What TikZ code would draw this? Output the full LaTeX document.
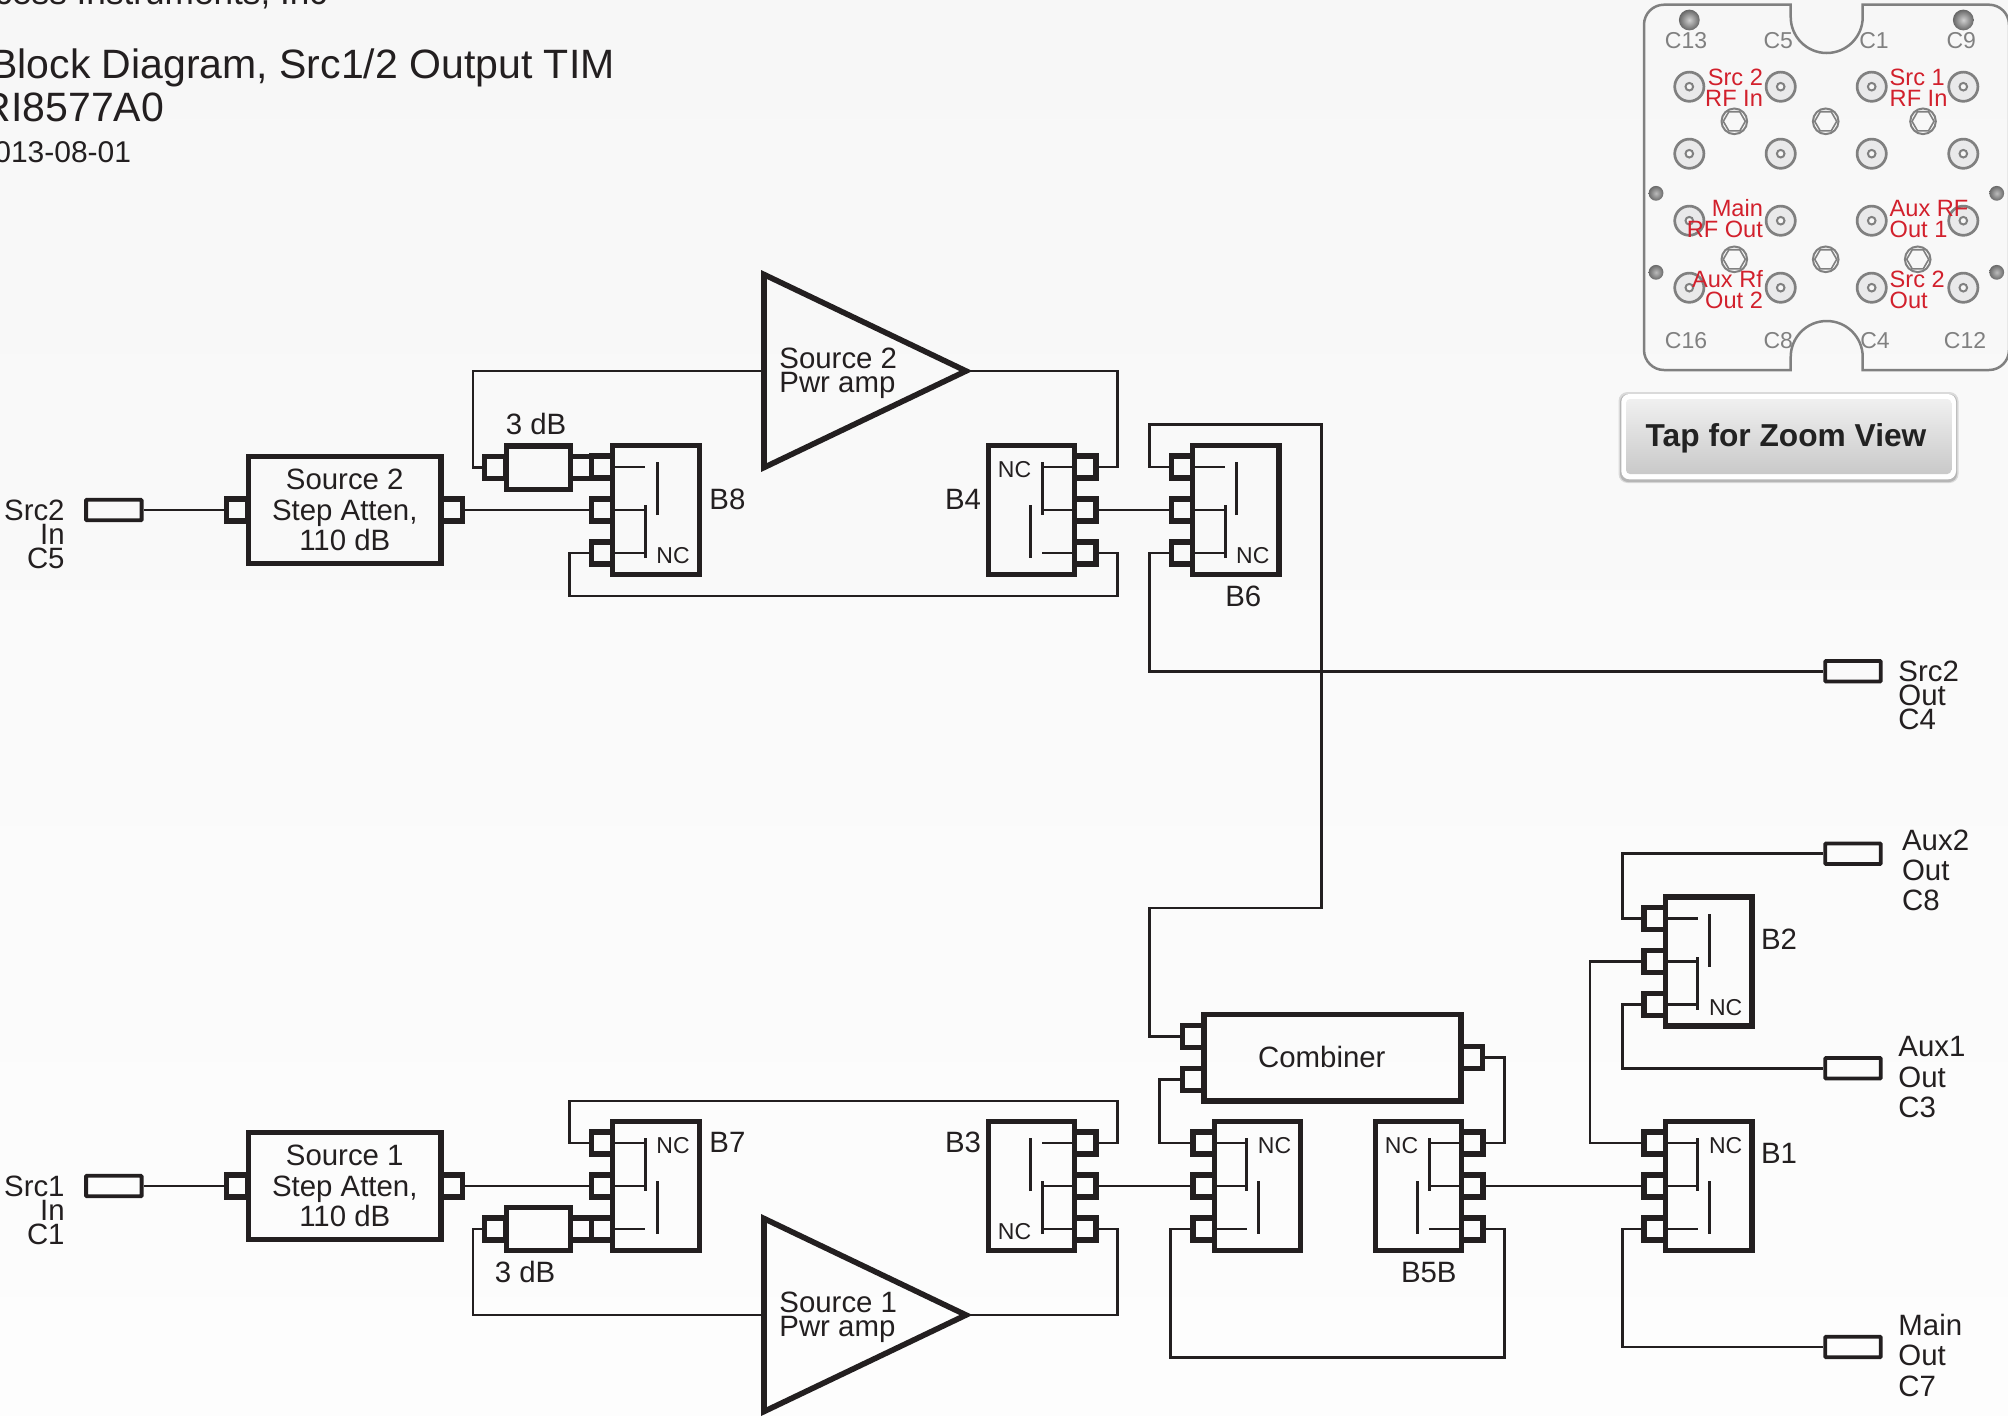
\documentclass[tikz,border=0pt]{standalone}
\usepackage{fontspec}
\setmainfont{Liberation Sans}
\usetikzlibrary{shapes.geometric,shadings}
\definecolor{ink}{HTML}{231F20}
\definecolor{pgray}{HTML}{808080}
\definecolor{pfill}{HTML}{E9E9EA}
\definecolor{pred}{HTML}{D2202C}
\definecolor{bgtop}{HTML}{F7F7F7}
\definecolor{bgbot}{HTML}{FDFDFD}
\definecolor{holein}{HTML}{F7F7F7}
\definecolor{btntop}{HTML}{F0F0F0}
\definecolor{btnbot}{HTML}{C9C9C9}
\definecolor{btntxt}{HTML}{222222}
\definecolor{scin}{HTML}{D0D0D0}
\definecolor{scout}{HTML}{666666}
\definecolor{sdin}{HTML}{BBBBBB}
\definecolor{sdout}{HTML}{6A6A6A}
\newcommand{\fwide}{\fontsize{14.7}{15.2}\selectfont}
\newcommand{\ftight}{\fontsize{14.7}{12}\selectfont}
\tikzset{
  x=0.5pt,y=-0.5pt,
  bx/.style={draw=ink,line width=2.7pt,inner sep=0pt,outer sep=0pt,text=ink,align=center,font=\fwide},
  port/.style={draw=ink,line width=2.7pt,minimum width=10.65pt,minimum height=11pt,inner sep=0pt},
  wire/.style={draw=ink,line width=1.4pt,line join=miter},
  stub/.style={draw=ink,line width=1.4pt},
  bar/.style={draw=ink,line width=1.5pt},
  conn/.style={draw=ink,line width=1.9pt,minimum width=27.75pt,minimum height=10.25pt,inner sep=0pt,rounded corners=0.4pt},
  lbl/.style={text=ink,inner sep=0pt,font=\ftight,align=left,yshift=0.3pt},
  lblw/.style={text=ink,inner sep=0pt,font=\fwide,align=left,yshift=-0.2pt},
  nclbl/.style={text=ink,inner sep=0pt,font=\fontsize{11.5}{12}\selectfont},
  plab/.style={text=pgray,inner sep=0pt,font=\fontsize{11.5}{12}\selectfont,yshift=-0.5pt},
  rlab/.style={text=pred,inner sep=0pt,font=\fontsize{11.8}{10.2}\selectfont},
  amp/.style={draw=ink,line width=2.8pt,isosceles triangle,isosceles triangle apex angle=50,isosceles triangle stretches,
     shape border rotate=0,minimum width=96.5pt,minimum height=101pt,inner sep=0pt,outer sep=0pt},
  pout/.style={draw=pgray,line width=1.25pt},
  coax/.style={draw=pgray,fill=pfill,line width=1.35pt},
  hexs/.style={draw=pgray,line width=0.8pt,regular polygon,regular polygon sides=6,minimum size=11pt,inner sep=0pt},
}
% name, cx, cy, side (1 = ports left, -1 = ports right), nc (1 = NC top, -1 = NC bottom)
\newcommand{\swblock}[5]{%
  \node[bx,minimum width=43.25pt,minimum height=64.5pt] (#1) at (#2,#3) {};
  \ifnum#4=1 \def\inanc{east}\else\def\inanc{west}\fi
  \node[port] (#1-a) at ({#2-53.9*(#4)},{#3-43}) {};
  \node[port] (#1-b) at ({#2-53.9*(#4)},{#3}) {};
  \node[port] (#1-c) at ({#2-53.9*(#4)},{#3+43}) {};
  \draw[stub] (#1-a.\inanc) -- ({#2-10.75*(#4)},{#3-43});
  \draw[stub] (#1-b.\inanc) -- ({#2-10.75*(#4)},{#3});
  \draw[stub] (#1-c.\inanc) -- ({#2-10.75*(#4)},{#3+43});
  \draw[bar] ({#2-10.75*(#4)},{#3-48*(#5)}) -- ({#2-10.75*(#4)},{#3+5*(#5)});
  \draw[bar] ({#2+1*(#4)},{#3-5*(#5)}) -- ({#2+1*(#4)},{#3+48*(#5)});
  \node[nclbl] at ({#2+17*(#4)},{#3+3-43*(#5)}) {NC};
}
\begin{document}
\begin{tikzpicture}
\useasboundingbox (0,0) rectangle (2008,1415);
\clip (0,0) rectangle (2008,1415);
\shade[top color=bgtop,bottom color=bgbot,draw=none] (0,0) rectangle (2008,1415);

% ---- title
\node[text=ink,inner sep=0pt,anchor=base east,font=\fontsize{17.6}{18}\selectfont] (t0) at (327.5,4) {Access Instruments, Inc};
\node[text=ink,inner sep=0pt,anchor=base east,font=\fontsize{20.5}{21}\selectfont] (t1) at (615,78.5) {Block Diagram, Src1/2 Output TIM};
\node[text=ink,inner sep=0pt,anchor=base east,font=\fontsize{20.5}{21}\selectfont] (t2) at (164.5,121) {RI8577A0};
\node[text=ink,inner sep=0pt,anchor=base east,font=\fontsize{15}{15}\selectfont] (t3) at (131.5,162.5) {2013-08-01};

% ---- connector panel
\draw[pout] (1644,24.7) arc[start angle=180,end angle=90,radius=10pt] -- (1790.7,4.7) -- (1790.7,17)
  arc[start angle=180,end angle=360,radius=18pt] -- (1862.7,4.7) -- (1989,4.7)
  arc[start angle=90,end angle=0,radius=10pt] -- (2009,350) arc[start angle=0,end angle=-90,radius=10pt]
  -- (1862.7,370) -- (1862.7,357) arc[start angle=0,end angle=180,radius=18pt] -- (1790.7,370) -- (1664,370)
  arc[start angle=-90,end angle=-180,radius=10pt] -- cycle;
\foreach \px in {1689.3,1780.7,1871.7,1963.3}{
  \foreach \py in {86.7,153.7,220.7,287.7}{
    \draw[coax] (\px,\py) circle[radius=7.3pt];
    \draw[draw=pgray,fill=holein,line width=1pt] (\px,\py) circle[radius=1.9pt];
  }
}
\foreach \hx/\hy in {1734.3/121.3,1825.7/121.3,1923/121.3,1734.3/259.3,1825.7/259.3,1917.7/259.3}{
  \draw[draw=pgray,line width=1pt] (\hx,\hy) circle[radius=6.4pt];
  \node[hexs] at (\hx,\hy) {};
}
\foreach \sx in {1689.3,1963.3}{
  \shade[inner color=scin,outer color=scout] (\sx,20) circle[radius=5.2pt];
}
\foreach \sx in {1656,1996.7}{
  \foreach \sy in {193.3,272.3}{
    \shade[inner color=sdin,outer color=sdout] (\sx,\sy) circle[radius=3.7pt];
  }
}
\node[plab] at (1686,39.3) {C13};
\node[plab] at (1778.3,39.3) {C5};
\node[plab] at (1874,39.3) {C1};
\node[plab] at (1961.3,39.3) {C9};
\node[plab] at (1686,340) {C16};
\node[plab] at (1778.3,340) {C8};
\node[plab] at (1875,340) {C4};
\node[plab] at (1965,340) {C12};
\node[rlab,align=right,anchor=base east] at (1763.3,106) {Src 2\\RF In};
\node[rlab,align=left,anchor=base west] at (1889.3,106) {Src 1\\RF In};
\node[rlab,align=right,anchor=base east] at (1763.3,237.3) {Main\\RF Out};
\node[rlab,align=left,anchor=base west] at (1889.3,237.3) {Aux RF\\Out 1};
\node[rlab,align=right,anchor=base east] at (1763.3,308) {Aux Rf\\Out 2};
\node[rlab,align=left,anchor=base west] at (1889.3,308) {Src 2\\Out};

% ---- button
\fill[black,opacity=0.12,rounded corners=4.5pt] (1618.5,392) rectangle (1958.5,483);
\fill[black,opacity=0.16,rounded corners=4pt] (1620,394) rectangle (1957,482);
\fill[white,rounded corners=4pt] (1621.3,394) rectangle (1956,479.3);
\shade[top color=btntop,bottom color=btnbot,rounded corners=2pt] (1626,399) rectangle (1951.3,474);
\node[text=btntxt,inner sep=0pt,font=\fontsize{15.85}{16}\selectfont\bfseries] (btn) at (1786,438.5) {Tap for Zoom View};

\begin{scope}[yshift=-0.5pt]
% ---- upper signal chain
\node[conn] (c5) at (113.85,509) {};
\node[lbl,align=right,anchor=east] (lc5) at (65,534) {Src2\\In\\C5};
\node[bx,minimum width=96.25pt,minimum height=53.75pt] (s2) at (344.75,509) {Source 2\\Step Atten,\\110 dB};
\node[port] (s2l) at (237,509) {};
\node[port] (s2r) at (452,509) {};
\node[bx,minimum width=32.15pt,minimum height=21.7pt] (a2) at (538.35,466.5) {};
\node[port] (a2l) at (495,466.5) {};
\node[port] (a2r) at (581,466.5) {};
\node[lblw] (la2) at (536,423) {3 dB};
\swblock{B8}{656}{509}{1}{-1}
\node[lblw] (lb8) at (727.4,498.4) {B8};
\node[amp,anchor=apex] (amp2) at (966,370) {};
\node[lbl,anchor=west] (lamp2) at (779,373) {Source 2\\Pwr amp};
\swblock{B4}{1031.5}{509}{-1}{1}
\node[lblw] (lb4) at (963,498.4) {B4};
\swblock{B6}{1235.75}{509}{1}{-1}
\node[lblw] (lb6) at (1243.3,595.2) {B6};
\node[conn] (c4) at (1853,670.3) {};
\node[lbl,anchor=west] (lc4) at (1898,695) {Src2\\Out\\C4};

\draw[wire] (c5.east) -- (s2l.west);
\draw[wire] (s2r.east) -- (B8-b.west);
\draw[wire] (a2l.west) -- (473,466.5) -- (473,370) -- (amp2.lower side);
\draw[wire] (amp2.apex) -- (1117.7,370) -- (1117.7,466) -- (B4-a.east);
\draw[wire] (B8-c.west) -- (569.3,552) -- (569.3,595) -- (1117.7,595) -- (1117.7,552) -- (B4-c.east);
\draw[wire] (B4-b.east) -- (B6-b.west);
\draw[wire] (B6-c.west) -- (1149.3,552) -- (1149.3,670.3) -- (c4.west);

% ---- lower signal chain
\node[conn] (c1) at (113.85,1185) {};
\node[lbl,align=right,anchor=east] (lc1) at (65,1210) {Src1\\In\\C1};
\node[bx,minimum width=96.25pt,minimum height=53.75pt] (s1) at (344.75,1185) {Source 1\\Step Atten,\\110 dB};
\node[port] (s1l) at (237,1185) {};
\node[port] (s1r) at (452,1185) {};
\node[bx,minimum width=32.15pt,minimum height=21.7pt] (a1) at (538.35,1228) {};
\node[port] (a1l) at (495,1228) {};
\node[port] (a1r) at (581,1228) {};
\node[lblw] (la1) at (525,1270.6) {3 dB};
\swblock{B7}{656}{1185}{1}{1}
\node[lblw] (lb7) at (727.4,1141) {B7};
\node[amp,anchor=apex] (amp1) at (966,1314) {};
\node[lbl,anchor=west] (lamp1) at (779,1317) {Source 1\\Pwr amp};
\swblock{B3}{1031.5}{1185}{-1}{-1}
\node[lblw] (lb3) at (963,1141) {B3};
\swblock{B5A}{1257.5}{1185}{1}{1}
\swblock{B5B}{1418.5}{1185}{-1}{1}
\node[lblw] (lb5b) at (1428.8,1271.2) {B5B};
\node[bx,minimum width=128.5pt,minimum height=43.25pt] (comb) at (1332.65,1056.7) {};
\node[lblw] (lcomb) at (1321.8,1055.3) {Combiner};
\node[port] (combi1) at (1193,1035.3) {};
\node[port] (combi2) at (1193,1078.3) {};
\node[port] (combo) at (1472,1056.7) {};
\swblock{B1}{1708.6}{1185}{1}{1}
\node[lblw] (lb1) at (1779,1151.6) {B1};
\swblock{B2}{1708.6}{960.5}{1}{-1}
\node[lblw] (lb2) at (1779,937.7) {B2};
\node[conn] (c8) at (1853,852.8) {};
\node[lblw,anchor=west] (lc8) at (1901.7,869) {Aux2\\Out\\C8};
\node[conn] (c3) at (1853,1067.3) {};
\node[lblw,anchor=west] (lc3) at (1898,1076) {Aux1\\Out\\C3};
\node[conn] (c7) at (1853,1346) {};
\node[lblw,anchor=west] (lc7) at (1898,1354) {Main\\Out\\C7};

\draw[wire] (c1.east) -- (s1l.west);
\draw[wire] (s1r.east) -- (B7-b.west);
\draw[wire] (a1l.west) -- (473,1228) -- (473,1314) -- (amp1.lower side);
\draw[wire] (amp1.apex) -- (1117.7,1314) -- (1117.7,1228) -- (B3-c.east);
\draw[wire] (B7-a.west) -- (569.3,1142) -- (569.3,1100) -- (1117.7,1100) -- (1117.7,1142) -- (B3-a.east);
\draw[wire] (B3-b.east) -- (B5A-b.west);
\draw[wire] (B6-a.west) -- (1149.3,466) -- (1149.3,423.3) -- (1321.7,423.3) -- (1321.7,907) -- (1149.6,907) -- (1149.6,1035.3) -- (combi1.west);
\draw[wire] (combi2.west) -- (1159.8,1078.3) -- (1159.8,1142) -- (B5A-a.west);
\draw[wire] (combo.east) -- (1504.7,1056.7) -- (1504.7,1142) -- (B5B-a.east);
\draw[wire] (B5A-c.west) -- (1170.8,1228) -- (1170.8,1356.7) -- (1504.7,1356.7) -- (1504.7,1228) -- (B5B-c.east);
\draw[wire] (B5B-b.east) -- (B1-b.west);
\draw[wire] (B1-a.west) -- (1590,1142) -- (1590,960.5) -- (B2-b.west);
\draw[wire] (B1-c.west) -- (1622.5,1228) -- (1622.5,1346) -- (c7.west);
\draw[wire] (B2-a.west) -- (1622.5,917.5) -- (1622.5,852.8) -- (c8.west);
\draw[wire] (B2-c.west) -- (1622.5,1003.5) -- (1622.5,1067.3) -- (c3.west);
\end{scope}
\end{tikzpicture}
\end{document}
